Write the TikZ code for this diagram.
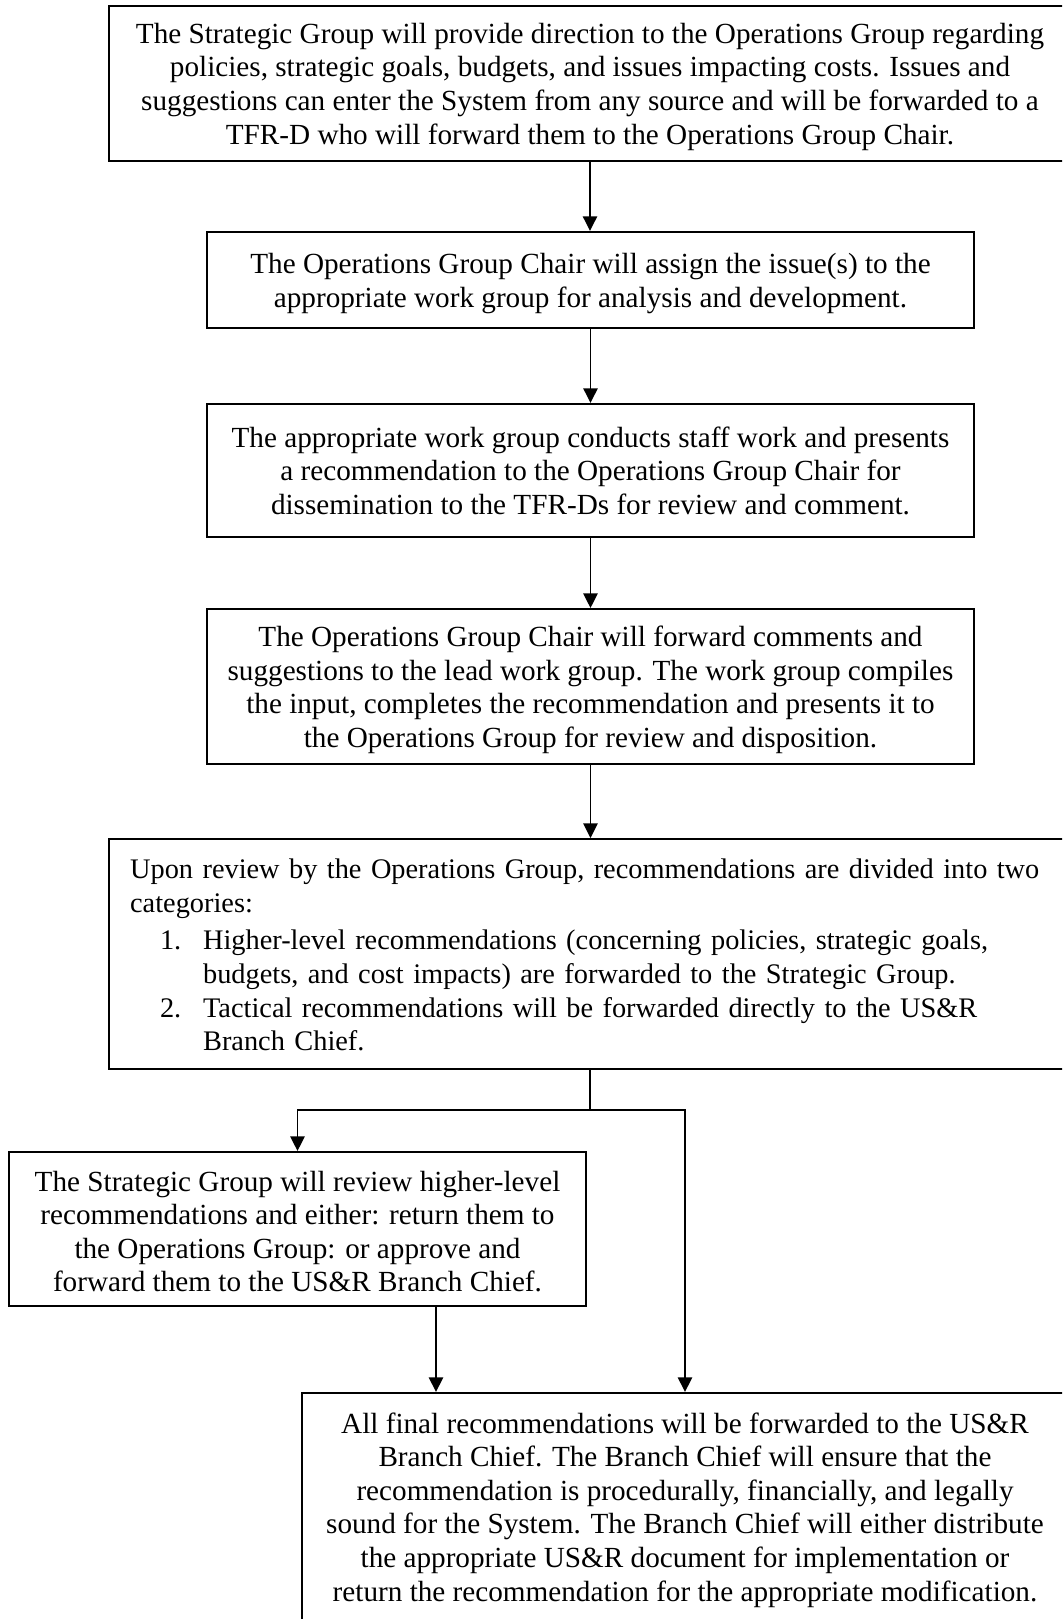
\documentclass[tikz,border=0pt]{standalone}
\usepackage{fontspec}
\setmainfont{Liberation Serif}
\usetikzlibrary{arrows.meta,calc}

\tikzset{
  stepbox/.style={draw, line width=0.8pt, rectangle, inner sep=0pt, align=center,
    font=\fontsize{12}{13.8}\selectfont},
  arr/.style={line width=0.8pt, -{Triangle[length=6pt,width=5.8pt]}},
  plainline/.style={line width=0.8pt}
}

% indent of list numbers and list text inside the review box
\newlength{\numind}\setlength{\numind}{12.3pt}
\newlength{\numwd}\setlength{\numwd}{17.7pt}

\begin{document}
\begin{tikzpicture}[x=0.411pt, y=-0.411pt]
\clip (0,0) rectangle (1062,1619);
\useasboundingbox (0,0) rectangle (1062,1619);

% process boxes (coordinates in pixel units, y downward)
\node[stepbox, minimum width=395.4pt, minimum height=63.7pt] (box1) at (590,83.5)
  {\rule{0pt}{11pt}The Strategic Group will provide direction to the Operations Group regarding\\
   policies, strategic goals, budgets, and issues impacting costs. Issues and\\
   suggestions can enter the System from any source and will be forwarded to a\\
   TFR-D who will forward them to the Operations Group Chair.};

\node[stepbox, minimum width=315.2pt, minimum height=39.5pt] (box2) at (590.5,280)
  {\rule{0pt}{11pt}The Operations Group Chair will assign the issue(s) to the\\
   appropriate work group for analysis and development.};

\node[stepbox, minimum width=315.2pt, minimum height=54.7pt] (box3) at (590.5,470.5)
  {The appropriate work group conducts staff work and presents\\
   a recommendation to the Operations Group Chair for\\
   dissemination to the TFR-Ds for review and comment.};

\node[stepbox, minimum width=315.2pt, minimum height=63.7pt] (box4) at (590.5,686.5)
  {\rule{0pt}{11pt}The Operations Group Chair will forward comments and\\
   suggestions to the lead work group. The work group compiles\\
   the input, completes the recommendation and presents it to\\
   the Operations Group for review and disposition.};

\node[stepbox, align=left, minimum width=395.4pt, minimum height=94.5pt,
      text width=378pt, inner xsep=8.6pt, font=\fontsize{11.65}{13.8}\selectfont] (box5) at (590,954)
  {\begin{tabular}{@{}l@{}}
   \rule{0pt}{13pt}Upon review by the Operations Group, recommendations are divided into two\\
   categories:\\[1.6pt]
   \hspace*{\numind}\makebox[\numwd][l]{1.}Higher-level recommendations (concerning policies, strategic goals,\\
   \hspace*{\numind}\hspace*{\numwd}budgets, and cost impacts) are forwarded to the Strategic Group.\\
   \hspace*{\numind}\makebox[\numwd][l]{2.}Tactical recommendations will be forwarded directly to the US\&R\\
   \hspace*{\numind}\hspace*{\numwd}Branch Chief.
   \end{tabular}};

\node[stepbox, minimum width=237.1pt, minimum height=63.3pt] (box6) at (297.5,1229)
  {\rule{0pt}{10.5pt}The Strategic Group will review higher-level\\
   recommendations and either: return them to\\
   the Operations Group: or approve and\\
   forward them to the US\&R Branch Chief.};

\node[stepbox, minimum width=314.8pt, minimum height=96.2pt] (box7) at (685,1510)
  {All final recommendations will be forwarded to the US\&R\\
   Branch Chief. The Branch Chief will ensure that the\\
   recommendation is procedurally, financially, and legally\\
   sound for the System. The Branch Chief will either distribute\\
   the appropriate US\&R document for implementation or\\
   return the recommendation for the appropriate modification.};

% connectors
\draw[arr] (box1.south) -- (box1.south |- box2.north);
\draw[arr] (box2.south) -- (box3.north);
\draw[arr] (box3.south) -- (box4.north);
\draw[arr] (box4.south) -- (box4.south |- box5.north);

\coordinate (split) at (590,1110);
\draw[plainline] (box5.south) -- (split);
\draw[arr] (split) -| (box6.north);
\draw[arr] (split) -| (box7.north);

\coordinate (c6) at ($(box6.south)+(138.5,0)$);
\draw[arr] (c6) -- (c6 |- box7.north);
\end{tikzpicture}
\end{document}
